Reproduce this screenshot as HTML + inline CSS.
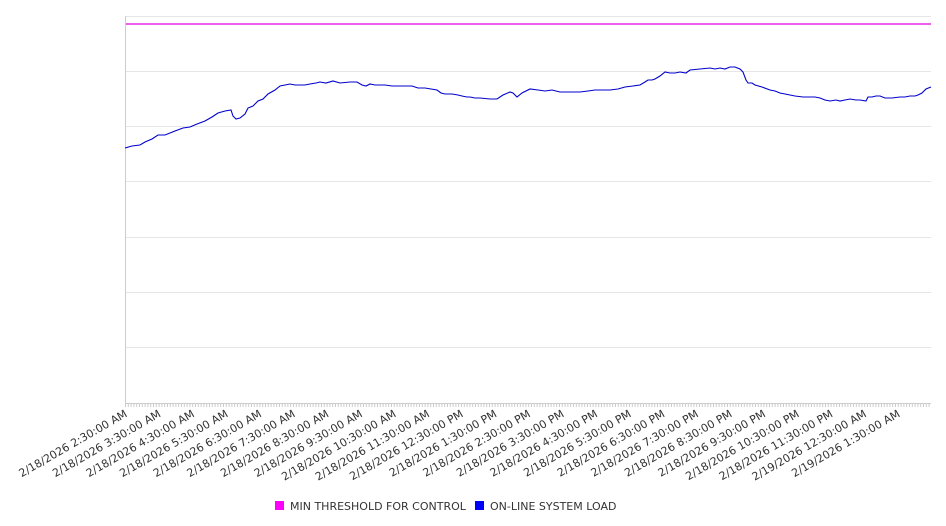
<!DOCTYPE html>
<html><head><meta charset="utf-8"><style>
html,body{margin:0;padding:0;background:#fff;width:946px;height:526px;overflow:hidden}
text{font-family:"DejaVu Sans","Liberation Sans",sans-serif;font-size:11px;fill:#333}
</style></head><body>
<svg width="946" height="526" xmlns="http://www.w3.org/2000/svg">
<g stroke="#e6e6e6" stroke-width="1">
<line x1="125" x2="931" y1="16.5" y2="16.5"/>
<line x1="125" x2="931" y1="71.5" y2="71.5"/>
<line x1="125" x2="931" y1="126.5" y2="126.5"/>
<line x1="125" x2="931" y1="181.5" y2="181.5"/>
<line x1="125" x2="931" y1="237.5" y2="237.5"/>
<line x1="125" x2="931" y1="292.5" y2="292.5"/>
<line x1="125" x2="931" y1="347.5" y2="347.5"/>
</g>
<line x1="125.5" x2="125.5" y1="16" y2="404" stroke="#ccc"/>
<line x1="125" x2="931" y1="403.5" y2="403.5" stroke="#ccc"/>
<g id="ticks" stroke="#ccc"></g>
<line x1="126" x2="931" y1="24" y2="24" stroke="#e000e0" stroke-width="1.3"/>
<polyline fill="none" stroke="#0000cc" stroke-width="1.1" points="125,148 132,146 140,145 145,142 152,139 158,135 165,135 175,131 183,128 190,127 197,124 205,121 212,117 218,113 225,111 231,110 233,116 236,119 240,118 245,114 248,108 253,106 258,101 263,99 268,94 275,90 280,86 285,85 290,84 295,85 300,85 305,85 310,84 316,83 320,82 326,83 333,81 340,83 350,82 357,82 362,85 366,86 370,84 375,85 385,85 392,86 400,86 407,86 412,86 418,88 425,88 437,90 441,93 445,94 452,94 458,95 462,96 467,97 470,97 475,98 480,98 490,99 497,99 503,95 510,92 513,93 517,97 522,93 530,89 538,90 545,91 552,90 560,92 570,92 580,92 588,91 595,90 605,90 610,90 618,89 625,87 633,86 640,85 645,82 648,80 652,80 655,79 660,76 665,72 670,73 675,73 680,72 686,73 690,70 700,69 710,68 715,69 720,68 725,69 730,67 735,67 740,69 743,72 746,80 748,83 752,83 755,85 762,87 770,90 775,91 780,93 790,95 795,96 803,97 810,97 815,97 820,98 825,100 830,101 836,100 840,101 845,100 850,99 856,100 860,100 866,101 868,97 872,97 876,96 880,96 885,98 892,98 900,97 905,97 910,96 915,96 918,95 922,93 926,89 931,87"/>
<g id="labels"></g>
<rect x="275" y="501" width="9" height="9" fill="#ff00ff"/>
<text x="290" y="510">MIN THRESHOLD FOR CONTROL</text>
<rect x="475" y="501" width="9" height="9" fill="#0000ff"/>
<text x="490" y="510">ON-LINE SYSTEM LOAD</text>
</svg>
<script>
var ns="http://www.w3.org/2000/svg";
var t=document.getElementById("ticks");
for(var i=0;i<=288;i++){var x=125.5+i*2.8;if(x>931)break;var l=document.createElementNS(ns,"line");l.setAttribute("x1",x);l.setAttribute("x2",x);l.setAttribute("y1",403);l.setAttribute("y2",407);t.appendChild(l);}
var g=document.getElementById("labels");
var names=[];
var hrs=["2:30:00 AM","3:30:00 AM","4:30:00 AM","5:30:00 AM","6:30:00 AM","7:30:00 AM","8:30:00 AM","9:30:00 AM","10:30:00 AM","11:30:00 AM","12:30:00 PM","1:30:00 PM","2:30:00 PM","3:30:00 PM","4:30:00 PM","5:30:00 PM","6:30:00 PM","7:30:00 PM","8:30:00 PM","9:30:00 PM","10:30:00 PM","11:30:00 PM"];
hrs.forEach(function(h){names.push("2/18/2026 "+h)});
names.push("2/19/2026 12:30:00 AM");names.push("2/19/2026 1:30:00 AM");
names.forEach(function(n,i){var x=128+i*33.6;var tx=document.createElementNS(ns,"text");tx.setAttribute("text-anchor","end");tx.setAttribute("transform","translate("+x+",416) rotate(-30)");tx.textContent=n;g.appendChild(tx);});
</script>
</body></html>
